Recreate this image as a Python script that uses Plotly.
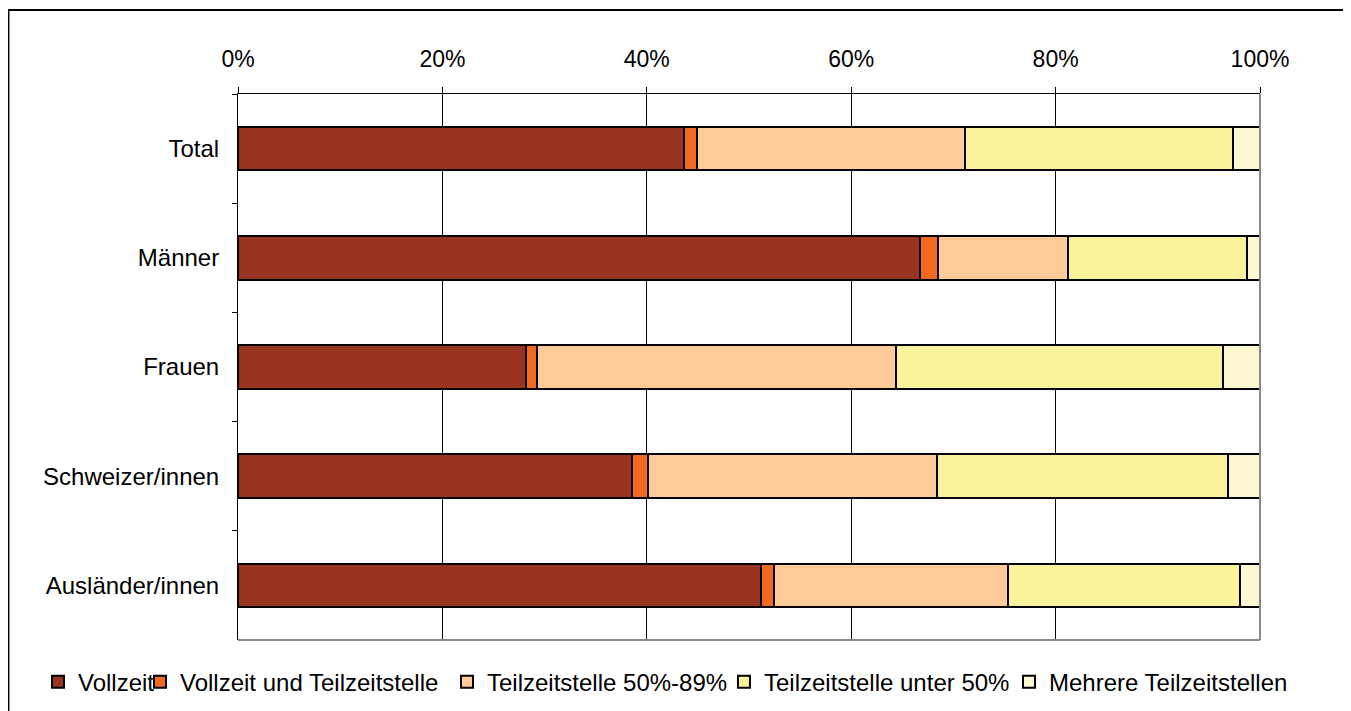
import plotly.graph_objects as go

# Anteile in Prozent, von oben nach unten
groups = ["Total", "Männer", "Frauen", "Schweizer/innen", "Ausländer/innen"]
series_names = [
    "Vollzeit",
    "Vollzeit und Teilzeitstelle",
    "Teilzeitstelle 50%-89%",
    "Teilzeitstelle unter 50%",
    "Mehrere Teilzeitstellen",
]
vollzeit = [43.6, 66.7, 28.2, 38.6, 51.2]
vollzeit_teilzeit = [1.3, 1.8, 1.1, 1.5, 1.2]
teilzeit_50_89 = [26.2, 12.7, 35.1, 28.3, 22.9]
teilzeit_unter_50 = [26.3, 17.5, 32.0, 28.5, 22.7]
mehrere_teilzeit = [2.6, 1.3, 3.6, 3.1, 2.0]
x_ticks = [0, 20, 40, 60, 80, 100]

colors = ["#993322", "#F26A21", "#FFCC99", "#FAF39C", "#FDF8D2"]
values = [vollzeit, vollzeit_teilzeit, teilzeit_50_89, teilzeit_unter_50, mehrere_teilzeit]

FONT = "Liberation Sans, Arial, sans-serif"

# one legend per entry so the row never wraps; x is the legend's left edge (paper)
legend_x = [-0.1957, -0.0959, 0.2045, 0.4755, 0.7544]
legend_ids = ["legend", "legend2", "legend3", "legend4", "legend5"]

fig = go.Figure()
for name, vals, col, lid in zip(series_names, values, colors, legend_ids):
    fig.add_trace(go.Bar(
        y=groups, x=vals, name=name, orientation="h",
        marker=dict(color=col, line=dict(color="black", width=2)),
        width=0.4, legend=lid,
    ))

# y in container units so the legends don't push the bottom margin
legend_style = dict(
    orientation="h", xanchor="left", yref="container", y=0.041,
    yanchor="middle", font=dict(size=24), itemwidth=30,
    bgcolor="rgba(0,0,0,0)",
)

# the page body has an 8px margin, so the figure is 8px smaller than the window
fig.update_layout(
    barmode="stack",
    width=1343, height=703,
    margin=dict(l=230, r=91, t=86, b=71),
    paper_bgcolor="white", plot_bgcolor="white",
    font=dict(family=FONT, size=23, color="black"),
    showlegend=True,
    xaxis=dict(
        side="top", range=[0, 100], tickvals=x_ticks,
        ticktext=[f"{v}%" for v in x_ticks],
        showgrid=True, gridcolor="black", gridwidth=1,
        ticks="outside", ticklen=6, tickcolor="black",
        showline=True, linecolor="black", linewidth=1,
        zeroline=False, ticklabelstandoff=11,
    ),
    yaxis=dict(
        autorange="reversed", ticks="outside", tickson="boundaries",
        ticklen=5, tickcolor="black", showline=True, linecolor="black",
        linewidth=1, showgrid=False, ticklabelstandoff=13,
        tickfont=dict(size=24),
    ),
    shapes=[
        # grauer Rahmen rechts/unten am Plotbereich
        dict(type="line", xref="paper", yref="paper", x0=1, x1=1, y0=0, y1=1,
             line=dict(color="#888888", width=2)),
        dict(type="line", xref="paper", yref="paper", x0=0, x1=1, y0=0, y1=0,
             line=dict(color="#888888", width=2)),
        # äusserer Rahmen (links, oben, rechts)
        dict(type="path", xref="paper", yref="paper",
             path="M -0.2246 -0.3 L -0.2246 1.1538 L 1.0861 1.1538 L 1.0861 -0.3",
             line=dict(color="black", width=2), layer="below"),
    ],
)
for lid, lx in zip(legend_ids, legend_x):
    fig.update_layout({lid: dict(legend_style, x=lx)})

fig.write_html("out.html")
